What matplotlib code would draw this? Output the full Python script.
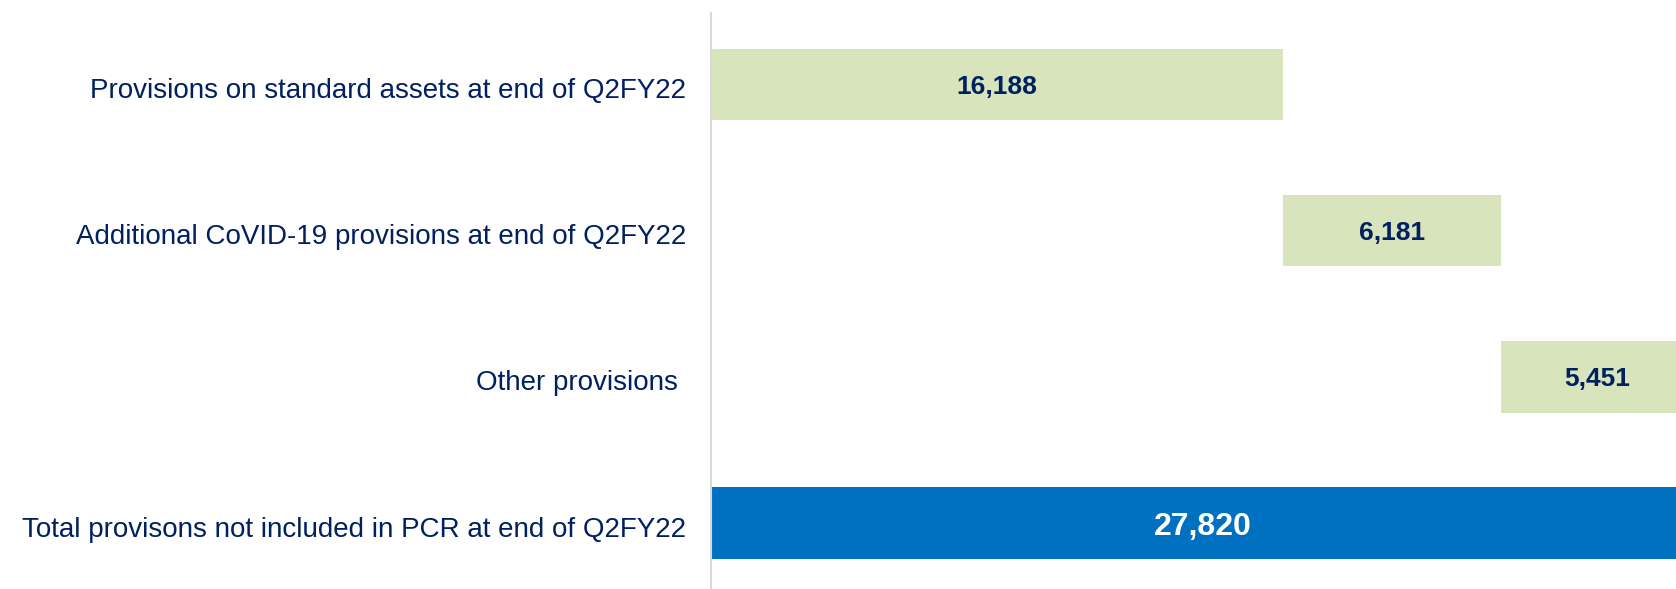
import matplotlib
matplotlib.use("Agg")
import matplotlib.pyplot as plt
from matplotlib.transforms import ScaledTranslation

categories = ["Provisions on standard assets at end of Q2FY22",
              "Additional CoVID-19 provisions at end of Q2FY22",
              "Other provisions ",
              "Total provisons not included in PCR at end of Q2FY22"]
values = [16188, 6181, 5451, 27820]
is_total = [False, False, False, True]

green = "#D8E4BC"
blue = "#0070C0"
navy = "#002060"

plt.rcParams['font.family'] = ['Liberation Sans', 'DejaVu Sans']

fig = plt.figure(figsize=(16.76, 5.89), dpi=100)
ax = fig.add_axes([711/1676, 0, 1 - 711/1676, 1 - 13/589])

# waterfall: start of each bar
starts = []
run = 0
for v, t in zip(values, is_total):
    if t:
        starts.append(0)
    else:
        starts.append(run)
        run += v

ypos = list(range(len(values)))
colors = [blue if t else green for t in is_total]
ax.barh(ypos, values, left=starts, height=0.49, color=colors)

for y, v, s, t in zip(ypos, values, starts, is_total):
    ax.text(s + v / 2, y, f"{v:,}", ha="center", va="center_baseline",
            fontsize=23 if t else 19, fontweight="bold",
            color="white" if t else navy)

ax.set_ylim(3.451, -0.489)
ax.set_xlim(0, 27320)
ax.set_yticks(ypos)
ax.set_yticklabels(categories, fontsize=20, color=navy)
ax.tick_params(axis="y", length=0, pad=18)
# nudge category labels down a little
for lab in ax.get_yticklabels():
    lab.set_transform(lab.get_transform() + ScaledTranslation(0, -2.5/72, fig.dpi_scale_trans))
ax.set_xticks([])
for side in ["top", "right", "bottom"]:
    ax.spines[side].set_visible(False)
ax.spines["left"].set_color("#D9D9D9")
ax.spines["left"].set_linewidth(1.5)

fig.savefig("out.png", dpi=100)
